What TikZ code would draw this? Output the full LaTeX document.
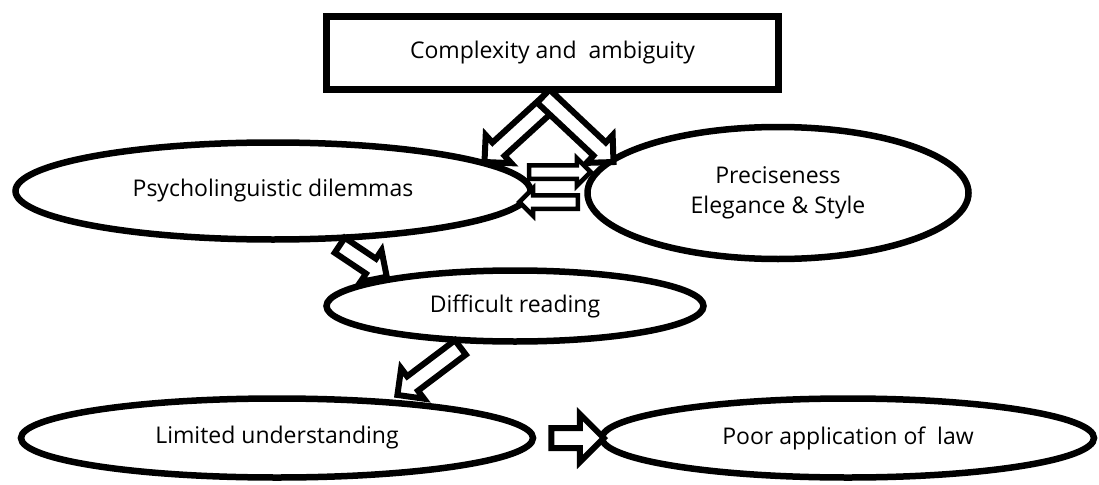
\documentclass[tikz,border=0pt]{standalone}
\usepackage{fontspec}
\setmainfont{Open Sans}
\usetikzlibrary{shapes.geometric, shapes.arrows, calc}
\pgfdeclarelayer{front}
\pgfsetlayers{main,front}

% hollow block arrow laid between two points
\newcommand{\blkarrow}[3][]{%
  \path let \p1=(#2), \p2=(#3),
    \n1={atan2(\y2-\y1,\x2-\x1)}, \n2={veclen(\x2-\x1,\y2-\y1)} in
    node[blk, #1, minimum height=\n2, rotate=\n1] at ($(\p1)!0.5!(\p2)$) {};}

\begin{document}
\begin{tikzpicture}[
  x=1pt, y=-1pt,
  font=\fontsize{23}{30}\selectfont,
  % ---- node styles ----
  topbox/.style={draw, fill=white, rectangle, line width=7pt,
    minimum width=452pt, minimum height=73pt, inner sep=0pt},
  oval/.style={draw, fill=white, ellipse, line width=6.5pt,
    inner sep=0pt, align=center},
  % ---- block arrow styles ----
  blk/.style={draw, fill=white, single arrow, line width=6pt,
    inner xsep=0pt, inner ysep=6pt, single arrow head extend=10pt},
  blksmall/.style={line width=4.5pt, inner ysep=4.5pt,
    single arrow head extend=7pt},
  blkwide/.style={inner ysep=7pt, single arrow head extend=14pt},
]
\useasboundingbox (0,0) rectangle (1099,484);

% ---- top box (kept in front so it covers the arrow tails) ----
\begin{pgfonlayer}{front}
\node[topbox] (cmplx) at (552.5,53) {Complexity and~ ambiguity};
\end{pgfonlayer}

% ---- states ----
\node[oval, minimum width=515pt, minimum height=97pt]  (psy)  at (273,191) {Psycholinguistic dilemmas};
\node[oval, minimum width=381pt, minimum height=132pt] (prec) at (778,193) {Preciseness\\Elegance \& Style};
\node[oval, minimum width=377pt, minimum height=71pt]  (diff) at (515,306) {Difficult reading};
\node[oval, minimum width=512pt, minimum height=79pt]  (lim)  at (277,438) {Limited understanding};
\node[oval, minimum width=492pt, minimum height=79pt]  (poor) at (848,438) {Poor application of~ law};

% ---- block arrows ----
\blkarrow{$(cmplx.south)+(7.5,0)$}{$(psy.east)+(-46,-32)$}
\blkarrow{$(cmplx.south)+(-12.5,0)$}{$(prec.west)+(26,-34)$}
\blkarrow[blksmall]{$(psy.east)+(-8,-19)$}{$(prec.west)+(3,-21)$}
\blkarrow[blksmall]{$(prec.west)+(-3,9)$}{$(psy.east)+(-11,11)$}
\blkarrow{$(psy.south)+(63,0)$}{$(diff.north)+(-132,7)$}
\blkarrow{$(diff.south)+(-51,0)$}{$(lim.north)+(124,-3)$}
\blkarrow[blkwide]{$(lim.east)+(10,0)$}{poor.west}
\end{tikzpicture}
\end{document}
